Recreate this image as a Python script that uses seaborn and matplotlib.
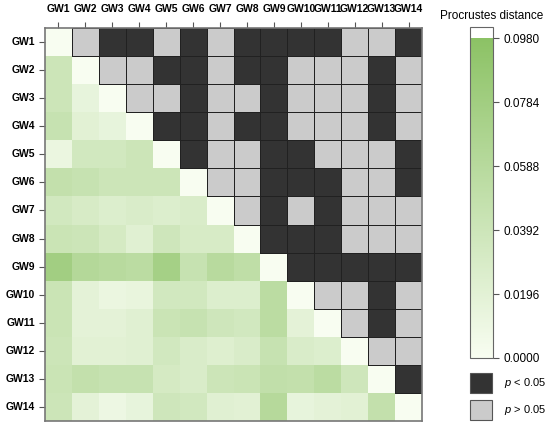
import numpy as np
import pandas as pd
import matplotlib
matplotlib.use('Agg')
import matplotlib.pyplot as plt
import seaborn as sns
from matplotlib.colors import LinearSegmentedColormap, ListedColormap
from matplotlib.patches import Rectangle

# etiquetas de los grupos
grupos = ['GW1', 'GW2', 'GW3', 'GW4', 'GW5', 'GW6', 'GW7', 'GW8', 'GW9',
          'GW10', 'GW11', 'GW12', 'GW13', 'GW14']

# distancias de Procrustes (triangulo inferior, fila i -> columnas 1..i-1)
distancias = [
    [],
    [0.040],
    [0.040, 0.015],
    [0.045, 0.020, 0.015],
    [0.012, 0.035, 0.035, 0.040],
    [0.048, 0.045, 0.040, 0.040, 0.040],
    [0.035, 0.030, 0.025, 0.028, 0.025, 0.028],
    [0.042, 0.040, 0.032, 0.022, 0.038, 0.030, 0.030],
    [0.078, 0.062, 0.058, 0.055, 0.075, 0.045, 0.058, 0.052],
    [0.042, 0.018, 0.012, 0.014, 0.035, 0.035, 0.025, 0.025, 0.055],
    [0.042, 0.018, 0.018, 0.022, 0.042, 0.045, 0.038, 0.035, 0.055, 0.018],
    [0.040, 0.020, 0.020, 0.022, 0.035, 0.028, 0.024, 0.028, 0.045, 0.028, 0.025],
    [0.042, 0.048, 0.045, 0.045, 0.032, 0.028, 0.040, 0.042, 0.050, 0.048, 0.055, 0.038],
    [0.040, 0.018, 0.010, 0.015, 0.038, 0.035, 0.022, 0.020, 0.060, 0.015, 0.018, 0.020, 0.048],
]

# significancia (triangulo superior, 1 = p < 0.05, fila i -> columnas i+1..14)
significancia = [
    [0, 1, 1, 0, 1, 0, 1, 1, 1, 1, 0, 0, 1],
    [0, 0, 1, 1, 0, 1, 1, 0, 0, 0, 1, 0],
    [0, 0, 1, 0, 0, 1, 0, 0, 0, 1, 0],
    [1, 1, 0, 1, 1, 0, 0, 0, 1, 0],
    [1, 0, 0, 1, 1, 0, 0, 0, 1],
    [0, 0, 1, 1, 1, 0, 0, 1],
    [0, 1, 0, 1, 0, 0, 0],
    [1, 1, 1, 0, 0, 0],
    [1, 1, 1, 1, 1],
    [0, 0, 1, 0],
    [0, 1, 0],
    [0, 0],
    [1],
    [],
]

n = len(grupos)
dist = np.zeros((n, n))
sig = np.zeros((n, n))
for i in range(n):
    for j, v in enumerate(distancias[i]):
        dist[i, j] = v
    for k, v in enumerate(significancia[i]):
        sig[i, i + 1 + k] = v

df_dist = pd.DataFrame(dist, index=grupos, columns=grupos)
df_sig = pd.DataFrame(sig, index=grupos, columns=grupos)

sup = np.triu(np.ones((n, n), dtype=bool), k=1)

plt.rcParams['font.family'] = ['Liberation Sans', 'DejaVu Sans']
plt.rcParams['mathtext.fontset'] = 'custom'
plt.rcParams['mathtext.it'] = 'Liberation Sans:italic'
plt.rcParams['mathtext.rm'] = 'Liberation Sans'

verdes = LinearSegmentedColormap.from_list('verdes', ['#f8fdf1', '#8cc265'])
grises = ListedColormap(['#cbcbcb', '#333333'])

fig = plt.figure(figsize=(5.5, 4.28), dpi=100)
ax = fig.add_axes([0.0818, 0.0164, 0.6855, 0.918])
cax = fig.add_axes([0.8545, 0.1636, 0.0418, 0.7733])

sns.heatmap(df_dist, mask=sup, cmap=verdes, vmin=0, vmax=0.098, ax=ax,
            cbar_ax=cax, square=False)
sns.heatmap(df_sig, mask=~sup, cmap=grises, vmin=0, vmax=1, ax=ax,
            cbar=False, linewidths=0.6, linecolor='#222222')

# bordes solo en las celdas del triangulo superior
malla = ax.collections[1]
bordes = [(0.13, 0.13, 0.13, 1.0) if m else (0, 0, 0, 0) for m in sup.ravel()]
malla.set_edgecolors(bordes)

ax.xaxis.tick_top()
ax.set_xlabel('')
ax.set_ylabel('')
ax.tick_params(axis='x', top=True, bottom=False, length=4, width=0.8,
               color='#555555', pad=6, labelsize=7.5)
ax.tick_params(axis='y', left=True, length=4, width=0.8, color='#555555',
               pad=3, labelsize=7.5)
plt.setp(ax.get_xticklabels(), rotation=0, fontweight='bold')
plt.setp(ax.get_yticklabels(), rotation=0, fontweight='bold')
for s in ax.spines.values():
    s.set_visible(True)
    s.set_color('#777777')
    s.set_linewidth(1.2)

# barra de color
cbar = ax.collections[0].colorbar
ticks = [0.0, 0.0196, 0.0392, 0.0588, 0.0784, 0.0980]
cbar.set_ticks(ticks)
cbar.set_ticklabels(['%.4f' % t for t in ticks])
cax.set_ylim(0, 0.1014)
cax.tick_params(labelsize=8.5, length=4, width=0.8, color='#555555')
cbar.outline.set_visible(True)
cbar.outline.set_edgecolor('#666666')
cbar.outline.set_linewidth(0.8)
fig.text(0.893, 0.963, 'Procrustes distance', ha='center', va='center', fontsize=8.5)

# leyenda de significancia
fig.add_artist(Rectangle((0.8545, 1 - 393 / 428), 0.04, 20 / 428,
                         transform=fig.transFigure, facecolor='#333333',
                         edgecolor='#555555', linewidth=0.8))
fig.add_artist(Rectangle((0.8545, 1 - 420 / 428), 0.04, 20 / 428,
                         transform=fig.transFigure, facecolor='#cbcbcb',
                         edgecolor='#555555', linewidth=0.8))
fig.text(0.916, 1 - 383 / 428, r'$p$ < 0.05', ha='left', va='center', fontsize=8)
fig.text(0.916, 1 - 410 / 428, r'$p$ > 0.05', ha='left', va='center', fontsize=8)

plt.savefig('out.png', dpi=100)
